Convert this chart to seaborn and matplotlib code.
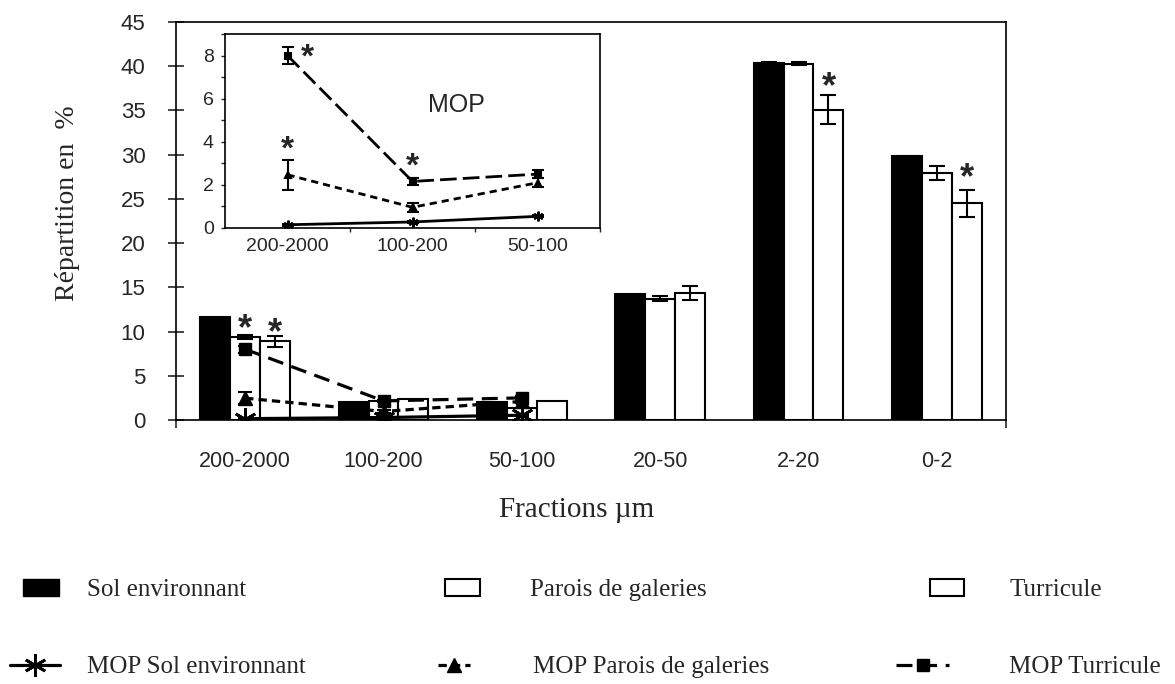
import matplotlib
matplotlib.use("Agg")
import matplotlib.pyplot as plt
import seaborn as sns
import pandas as pd
import numpy as np
from matplotlib.lines import Line2D
from matplotlib.patches import Patch

# Données
fractions = ["200-2000", "100-200", "50-100", "20-50", "2-20", "0-2"]
series = ["Sol environnant", "Parois de galeries", "Turricule"]

sol = [11.6, 2.0, 2.0, 14.2, 40.4, 29.8]
parois = [9.4, 2.2, 1.4, 13.7, 40.3, 27.9]
turricule = [8.9, 2.4, 2.1, 14.4, 35.1, 24.5]
sol_err = [0, 0, 0, 0, 0.1, 0.1]
parois_err = [0.2, 0, 0, 0.3, 0.15, 0.8]
turricule_err = [0.6, 0, 0, 0.8, 1.65, 1.5]
# hauteur des étoiles de significativité (None = pas d'étoile)
parois_star = [11.5, None, None, None, None, None]
turricule_star = [11.0, None, None, None, 38.8, 28.5]

mop_fractions = ["200-2000", "100-200", "50-100"]
mop_sol = [0.15, 0.28, 0.54]
mop_parois = [2.47, 0.96, 2.1]
mop_turricule = [8.0, 2.16, 2.5]
mop_sol_err = [0.05, 0.05, 0.05]
mop_parois_err = [0.7, 0.2, 0.2]
mop_turricule_err = [0.4, 0.15, 0.2]
mop_parois_star = [4.1, None, None]
mop_turricule_star = [8.37, 3.3, None]

W, H = 1175, 684
sns.set_style("white")
plt.rcParams['font.family'] = ['Liberation Sans', 'DejaVu Sans']

fig = plt.figure(figsize=(W / 100, H / 100), dpi=100)
ax = fig.add_axes([176 / W, 1 - 420 / H, 830 / W, 398 / H])

df = pd.DataFrame({
    "fraction": fractions * 3,
    "serie": np.repeat(series, len(fractions)),
    "value": sol + parois + turricule,
})

sns.barplot(data=df, x="fraction", y="value", hue="serie", order=fractions,
            hue_order=series, palette=["black", "white", "white"],
            edgecolor="black", linewidth=1.5, width=0.65, errorbar=None,
            saturation=1, legend=False, ax=ax, zorder=2)


def star(a, x, y, fs=26):
    a.annotate("*", (x, y), xytext=(0, -0.57 * fs), textcoords="offset points",
               ha="center", va="baseline", fontsize=fs, fontweight="bold", zorder=6)


# barres d'erreur + étoiles
for cont, errs in zip(ax.containers, [sol_err, parois_err, turricule_err]):
    xs = [b.get_x() + b.get_width() / 2 for b in cont]
    ys = [b.get_height() for b in cont]
    keep = [i for i, e in enumerate(errs) if e > 0]
    ax.errorbar([xs[i] for i in keep], [ys[i] for i in keep],
                yerr=[errs[i] for i in keep], fmt="none", ecolor="black",
                elinewidth=1.5, capsize=5.5, capthick=1.5, zorder=3)
for cont, stars in zip(ax.containers[1:], [parois_star, turricule_star]):
    for b, s in zip(cont, stars):
        if s is not None:
            star(ax, b.get_x() + b.get_width() / 2, s)

# courbes MOP sur le graphique principal
xm = np.arange(len(mop_fractions))
mop_styles = [
    (mop_sol, mop_sol_err, "-", None, (6, 2, 0), 16),
    (mop_parois, mop_parois_err, "--", (2.6, 1.6), "^", 10),
    (mop_turricule, mop_turricule_err, "--", (5, 2.7), "s", 9),
]
handles_mop = []
for vals, errs, ls, dash, mk, ms in mop_styles:
    line, = ax.plot(xm, vals, color="black", linestyle=ls, linewidth=2.3,
                    marker=mk, markersize=ms, markeredgewidth=2 if mk == (6, 2, 0) else 1,
                    zorder=5)
    if dash:
        line.set_dashes(dash)
    ax.errorbar(xm, vals, yerr=errs, fmt="none", ecolor="black",
                elinewidth=1.5, capsize=5, capthick=1.5, zorder=5)
    handles_mop.append(line)

ax.set_xlim(-0.5, len(fractions) - 0.5)
ax.set_ylim(0, 45)
ax.set_yticks(np.arange(0, 46, 5))
ax.set_xticks([-0.5, len(fractions) - 0.5], minor=True)
ax.set_xlabel("")
ax.set_ylabel("")
ax.tick_params(axis="y", left=True, direction="inout", length=12, width=1.2,
               labelsize=16, pad=16)
ax.tick_params(axis="x", which="major", length=0, labelsize=15.5, pad=22)
ax.tick_params(axis="x", which="minor", bottom=True, direction="out", length=6, width=1.2)
for sp in ax.spines.values():
    sp.set_linewidth(1.2)
    sp.set_color("black")

fig.text(68 / W, 1 - 203 / H, "Répartition en  %", rotation=90, ha="center",
         va="center", fontsize=20, family="Liberation Serif")
fig.text(577 / W, 1 - 510 / H, "Fractions µm", ha="center", va="center",
         fontsize=21, family="Liberation Serif")

# encart MOP
axi = fig.add_axes([225 / W, 1 - 228 / H, 375 / W, 194 / H])
axi.set_facecolor("white")
inset_styles = [
    (mop_sol, mop_sol_err, "-", None, (6, 2, 0), 7),
    (mop_parois, mop_parois_err, "--", (2.6, 1.8), "^", 5),
    (mop_turricule, mop_turricule_err, "--", (6, 2.2), "s", 4),
]
for vals, errs, ls, dash, mk, ms in inset_styles:
    line, = axi.plot(xm, vals, color="black", linestyle=ls, linewidth=2,
                     marker=mk, markersize=ms, markeredgewidth=1.5, zorder=4)
    if dash:
        line.set_dashes(dash)
    axi.errorbar(xm, vals, yerr=errs, fmt="none", ecolor="black",
                 elinewidth=1.5, capsize=4, capthick=1.5, zorder=4)
for stars in [mop_parois_star, mop_turricule_star]:
    for i, s in enumerate(stars):
        if s is not None:
            off = 0.16 if (stars is mop_turricule_star and i == 0) else 0.0
            star(axi, i + off, s, fs=24)
axi.text(1.35, 5.7, "MOP", ha="center", va="center", fontsize=18)

axi.set_xlim(-0.5, 2.5)
axi.set_ylim(0, 9)
axi.set_xticks(xm)
axi.set_xticklabels(mop_fractions)
axi.set_xticks([0.5, 1.5, 2.5], minor=True)
axi.set_yticks(np.arange(0, 9, 2))
axi.set_yticks(np.arange(1, 10, 2), minor=True)
axi.tick_params(axis="x", which="major", length=0, labelsize=14, pad=7)
axi.tick_params(axis="x", which="minor", bottom=True, direction="out", length=3, width=1)
axi.tick_params(axis="y", which="both", left=True, direction="out", length=3, width=1,
                labelsize=14, pad=5)
for sp in axi.spines.values():
    sp.set_linewidth(1.2)
    sp.set_color("black")

# légende
leg_handles = [
    Patch(facecolor="black", edgecolor="black"),
    Patch(facecolor="white", edgecolor="black", linewidth=1.5),
    Patch(facecolor="white", edgecolor="black", linewidth=1.5),
] + handles_mop
leg_labels = series + ["MOP " + s for s in series]
# (x gauche, y centre, longueur symbole, x texte) en pixels
leg_pos = [(23, 590, 36, 87), (445, 590, 35, 530), (930, 590, 34, 1009),
           (10, 667, 50, 87), (438, 667, 32, 533), (896, 667, 53, 1009)]
em = 18 * 100 / 72
for h, lab, (x0, y0, hl, xt) in zip(leg_handles, leg_labels, leg_pos):
    fig.legend(handles=[h], labels=[lab], loc="center left",
               bbox_to_anchor=(x0 / W, 1 - y0 / H), frameon=False,
               borderpad=0, borderaxespad=0, handlelength=hl / em,
               handletextpad=(xt - x0 - hl) / em,
               prop={"family": "Liberation Serif", "size": 18})

fig.savefig("out.png", dpi=100)
